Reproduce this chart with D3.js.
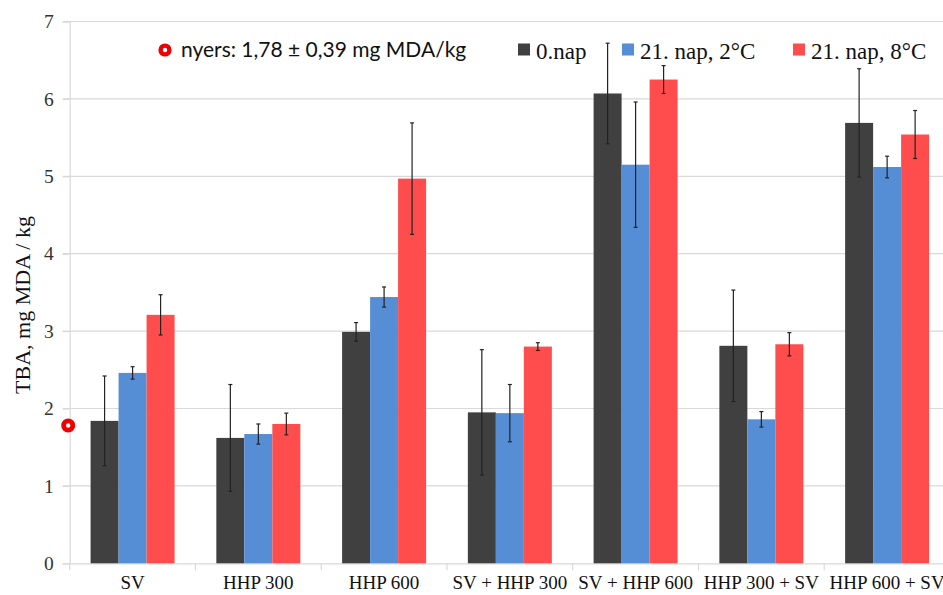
<!DOCTYPE html>
<html><head><meta charset="utf-8">
<script src="https://cdn.jsdelivr.net/npm/d3@7"></script>
<style>body{margin:0;background:#fff}svg{display:block}</style>
</head><body>
<svg id="c" width="943" height="595"></svg>
<script>
const categories = ["SV","HHP 300","HHP 600","SV + HHP 300","SV + HHP 600","HHP 300 + SV","HHP 600 + SV"];
const seriesNames = ["0.nap","21. nap, 2°C","21. nap, 8°C"];
const day0 = [1.84,1.62,2.99,1.95,6.07,2.81,5.69];
const day0Err = [0.58,0.69,0.12,0.81,0.65,0.72,0.70];
const day21c2 = [2.46,1.67,3.44,1.94,5.15,1.86,5.12];
const day21c2Err = [0.08,0.13,0.13,0.37,0.81,0.10,0.14];
const day21c8 = [3.21,1.80,4.97,2.80,6.25,2.83,5.54];
const day21c8Err = [0.26,0.14,0.72,0.05,0.18,0.15,0.31];
const rawValue = 1.78;
const rawLabel = "nyers: 1,78 ± 0,39 mg MDA/kg";
const yTicks = [0,1,2,3,4,5,6,7];
const colors = ["#404040","#558ed5","#ff4d4d"];

const serif = "'Liberation Serif', 'Times New Roman', serif";
const svg = d3.select("#c");
const m = {l:69.7, r:-7, t:21.5, b:31.7};
const W = 943, H = 595;
const x0 = d3.scaleBand().domain(categories).range([m.l, W - m.r]).paddingInner(0).paddingOuter(0);
const x1 = d3.scaleBand().domain(seriesNames).range([0, 84]);
const y = d3.scaleLinear().domain([0,7]).range([H - m.b, m.t]);

// gridlines
svg.append("g").selectAll("line").data(yTicks.filter(d=>d>0)).join("line")
  .attr("x1", m.l - 7).attr("x2", W - m.r).attr("y1", d=>y(d)).attr("y2", d=>y(d))
  .attr("stroke","#d9d9d9").attr("stroke-width",1.2);

// y axis
const yAxis = svg.append("g").attr("transform",`translate(${m.l},0)`)
  .call(d3.axisLeft(y).tickValues(yTicks).tickFormat(d3.format("d")).tickSize(7).tickPadding(9));
yAxis.attr("font-family", null).attr("font-size", null);
yAxis.select(".domain").attr("stroke","#d9d9d9").attr("stroke-width",1.2);
yAxis.selectAll(".tick line").attr("stroke","#d9d9d9").attr("stroke-width",1.2);
yAxis.selectAll(".tick text").style("font-family",serif).style("font-size","19.5px").attr("fill","#333");

// x axis
const xAxis = svg.append("g").attr("transform",`translate(0,${y(0)})`)
  .call(d3.axisBottom(x0).tickSize(0).tickPadding(12));
xAxis.attr("font-family", null).attr("font-size", null);
xAxis.select(".domain").attr("stroke","#d9d9d9").attr("stroke-width",1.2);
xAxis.selectAll(".tick text").style("font-family",serif).style("font-size","19px").attr("fill","#111");
svg.append("g").selectAll("line").data(categories).join("line")
  .attr("x1", d=>x0(d)).attr("x2", d=>x0(d)).attr("y1", y(0)).attr("y2", y(0)+7)
  .attr("stroke","#d9d9d9").attr("stroke-width",1.2);

// bars
const series = [
  {name:seriesNames[0], vals:day0, errs:day0Err},
  {name:seriesNames[1], vals:day21c2, errs:day21c2Err},
  {name:seriesNames[2], vals:day21c8, errs:day21c8Err}
];
const groupOff = (x0.bandwidth() - 84) / 2;
series.forEach((s, si) => {
  const g = svg.append("g");
  const data = categories.map((c,i)=>({c, v:s.vals[i], e:s.errs[i]}));
  const cx = d => x0(d.c) + groupOff + x1(s.name);
  g.selectAll("rect").data(data).join("rect")
    .attr("x", cx).attr("width", x1.bandwidth())
    .attr("y", d=>y(d.v)).attr("height", d=>y(0)-y(d.v))
    .attr("fill", colors[si]);
  const mid = d => cx(d) + x1.bandwidth()/2;
  g.selectAll("line.eb").data(data).join("line").attr("class","eb")
    .attr("x1", mid).attr("x2", mid).attr("y1", d=>y(d.v+d.e)).attr("y2", d=>y(d.v-d.e))
    .attr("stroke","#222").attr("stroke-width",1.2);
  g.selectAll("line.ct").data(data).join("line").attr("class","ct")
    .attr("x1", d=>mid(d)-2).attr("x2", d=>mid(d)+2).attr("y1", d=>y(d.v+d.e)).attr("y2", d=>y(d.v+d.e))
    .attr("stroke","#222").attr("stroke-width",1.2);
  g.selectAll("line.cb").data(data).join("line").attr("class","cb")
    .attr("x1", d=>mid(d)-2).attr("x2", d=>mid(d)+2).attr("y1", d=>y(d.v-d.e)).attr("y2", d=>y(d.v-d.e))
    .attr("stroke","#222").attr("stroke-width",1.2);
});

// raw marker
svg.append("circle").attr("cx", m.l - 1.5).attr("cy", y(rawValue)).attr("r",4.6)
  .attr("fill","#fff").attr("stroke","#ee0000").attr("stroke-width",4.8);

// y title
svg.append("text").attr("transform",`translate(30,305) rotate(-90)`)
  .attr("text-anchor","middle").style("font-family",serif).style("font-size","22px").attr("fill","#111")
  .text("TBA, mg MDA / kg");

// legend
const lg = svg.append("g");
lg.append("circle").attr("cx",165).attr("cy",50).attr("r",4.4)
  .attr("fill","#fff").attr("stroke","#ee0000").attr("stroke-width",4.4);
lg.append("text").attr("x",181).attr("y",57).style("font-family","Lato").style("font-size","21px").attr("fill","#111")
  .text(rawLabel);
const legX = [518, 622, 793];
seriesNames.forEach((n,i)=>{
  lg.append("rect").attr("x",legX[i]).attr("y",43.5).attr("width",12).attr("height",12).attr("fill",colors[i]);
  lg.append("text").attr("x",legX[i]+18).attr("y",58.5).style("font-family",serif).style("font-size","23px").attr("fill","#111").text(n);
});
</script>
</body></html>
